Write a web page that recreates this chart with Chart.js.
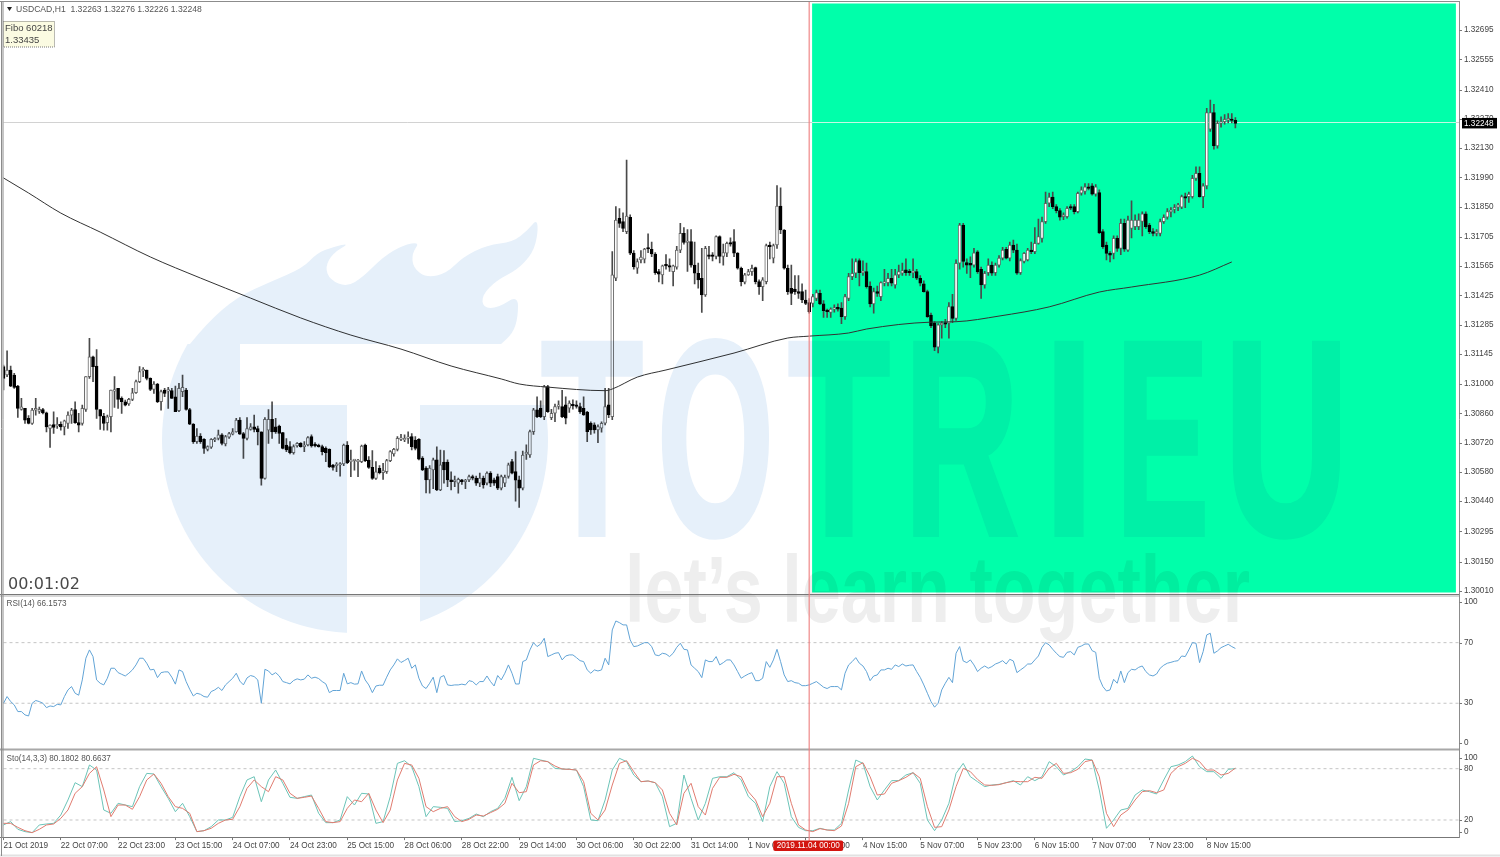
<!DOCTYPE html>
<html>
<head>
  <meta charset="utf-8" />
  <title>USDCAD,H1</title>
  <style>
    html, body { margin: 0; padding: 0; background: #fff; overflow: hidden; }
    #wrap { position: relative; width: 1500px; height: 857px; }
  </style>
</head>
<body>
  <div id="wrap"><canvas id="stage" width="1500" height="857"></canvas></div>

  <script src="https://cdn.jsdelivr.net/npm/chart.js@4/dist/chart.umd.min.js"></script>
  <script>
    // x axis labels, one every 16 bars
    const tickLabels = ['21 Oct 2019','22 Oct 07:00','22 Oct 23:00','23 Oct 15:00','24 Oct 07:00','24 Oct 23:00','25 Oct 15:00','28 Oct 06:00','28 Oct 22:00','29 Oct 14:00','30 Oct 06:00','30 Oct 22:00','31 Oct 14:00','1 Nov 06:00','1 Nov 22:00','4 Nov 15:00','5 Nov 07:00','5 Nov 23:00','6 Nov 15:00','7 Nov 07:00','7 Nov 23:00','8 Nov 15:00'];
    const barsPerTick = 16;
    const slotCount = 407; // bars plus the empty space right of the last candle

    const priceTicks = [1.32695,1.32555,1.32410,1.32270,1.32130,1.31990,1.31850,1.31705,1.31565,1.31425,1.31285,1.31145,1.31000,1.30860,1.30720,1.30580,1.30440,1.30295,1.30150,1.30010];
    const lastPrice = 1.32248;

    const opens = [
      1.31084,1.31044,1.31068,1.31044,1.30991,1.30879,1.30884,1.30836,1.30812,1.30876,
      1.30870,1.30879,1.30863,1.30788,1.30807,1.30800,1.30808,1.30796,1.30812,1.30852,
      1.30879,1.30816,1.30812,1.30879,1.31036,1.31131,1.31087,1.30879,1.30847,1.30816,
      1.30844,1.30967,1.30980,1.30932,1.30916,1.30905,1.30927,1.30959,1.31012,1.31064,
      1.31068,1.31028,1.30975,1.31000,1.30916,1.30972,1.30967,1.30969,1.30940,1.30873,
      1.30964,1.30972,1.30879,1.30809,1.30725,1.30752,1.30736,1.30688,1.30698,1.30733,
      1.30741,1.30757,1.30714,1.30746,1.30761,1.30772,1.30828,1.30764,1.30741,1.30784,
      1.30796,1.30788,1.30772,1.30549,1.30780,1.30832,1.30796,1.30800,1.30768,1.30709,
      1.30701,1.30672,1.30704,1.30717,1.30701,1.30709,1.30749,1.30713,1.30709,1.30701,
      1.30693,1.30688,1.30613,1.30610,1.30613,1.30618,1.30709,1.30629,1.30634,1.30629,
      1.30629,1.30709,1.30637,1.30602,1.30549,1.30597,1.30576,1.30581,1.30634,1.30666,
      1.30688,1.30736,1.30733,1.30741,1.30749,1.30733,1.30736,1.30646,1.30598,1.30542,
      1.30590,1.30638,1.30494,1.30627,1.30627,1.30542,1.30534,1.30526,1.30542,1.30534,
      1.30542,1.30555,1.30550,1.30526,1.30550,1.30526,1.30574,1.30542,1.30558,1.30502,
      1.30526,1.30558,1.30629,1.30582,1.30542,1.30502,1.30665,1.30661,1.30773,1.30877,
      1.30885,1.30845,1.30989,1.30840,1.30861,1.30893,1.30893,1.30901,1.30885,1.30901,
      1.30901,1.30893,1.30885,1.30866,1.30813,1.30805,1.30781,1.30789,1.30813,1.30901,
      1.30845,1.31507,1.31794,1.31778,1.31730,1.31799,1.31627,1.31555,1.31595,1.31598,
      1.31650,1.31646,1.31623,1.31539,1.31523,1.31571,1.31566,1.31539,1.31560,1.31642,
      1.31722,1.31678,1.31682,1.31570,1.31531,1.31507,1.31427,1.31619,1.31619,1.31611,
      1.31706,1.31611,1.31627,1.31674,1.31682,1.31627,1.31555,1.31488,1.31523,1.31539,
      1.31558,1.31491,1.31467,1.31491,1.31663,1.31603,1.31666,1.31853,1.31738,1.31555,
      1.31459,1.31455,1.31443,1.31443,1.31403,1.31390,1.31387,1.31411,1.31435,1.31384,
      1.31355,1.31343,1.31359,1.31368,1.31364,1.31323,1.31411,1.31515,1.31531,1.31592,
      1.31534,1.31539,1.31470,1.31384,1.31443,1.31419,1.31483,1.31486,1.31507,1.31475,
      1.31523,1.31531,1.31547,1.31539,1.31534,1.31539,1.31507,1.31480,1.31443,1.31331,
      1.31292,1.31177,1.31284,1.31295,1.31292,1.31371,1.31315,1.31579,1.31762,1.31582,
      1.31579,1.31570,1.31634,1.31550,1.31475,1.31534,1.31570,1.31534,1.31570,1.31603,
      1.31646,1.31603,1.31666,1.31642,1.31534,1.31587,1.31595,1.31642,1.31634,1.31674,
      1.31698,1.31778,1.31866,1.31895,1.31850,1.31831,1.31802,1.31802,1.31850,1.31850,
      1.31826,1.31914,1.31922,1.31945,1.31949,1.31910,1.31917,1.31730,1.31666,1.31626,
      1.31626,1.31698,1.31650,1.31770,1.31642,1.31746,1.31754,1.31754,1.31779,1.31815,
      1.31762,1.31730,1.31722,1.31722,1.31778,1.31799,1.31826,1.31837,1.31847,1.31847,
      1.31898,1.31898,1.31898,1.31985,1.32009,1.31898,1.31949,1.32220,1.32300,1.32140,
      1.32249,1.32257,1.32264,1.32268,1.32263];
    const highs = [
      1.31092,1.31160,1.31087,1.31052,1.30995,1.30932,1.30884,1.30850,1.30884,1.30932,
      1.30890,1.30884,1.30866,1.30806,1.30868,1.30840,1.30820,1.30828,1.30868,1.30884,
      1.30916,1.30860,1.30900,1.31036,1.31219,1.31135,1.31166,1.30879,1.30860,1.30852,
      1.30972,1.31036,1.30980,1.30940,1.30924,1.30932,1.30980,1.31020,1.31084,1.31080,
      1.31068,1.31031,1.31012,1.31004,1.30972,1.30980,1.30985,1.30980,1.30991,1.31004,
      1.31044,1.30980,1.30884,1.30812,1.30788,1.30764,1.30740,1.30705,1.30740,1.30745,
      1.30780,1.30764,1.30755,1.30770,1.30788,1.30836,1.30840,1.30770,1.30840,1.30812,
      1.30852,1.30800,1.30772,1.30840,1.30879,1.30916,1.30836,1.30804,1.30770,1.30740,
      1.30725,1.30710,1.30720,1.30720,1.30725,1.30749,1.30757,1.30720,1.30713,1.30709,
      1.30700,1.30690,1.30616,1.30625,1.30625,1.30713,1.30725,1.30685,1.30640,1.30640,
      1.30709,1.30713,1.30653,1.30682,1.30629,1.30610,1.30621,1.30640,1.30682,1.30693,
      1.30749,1.30760,1.30757,1.30772,1.30764,1.30749,1.30740,1.30653,1.30606,1.30610,
      1.30646,1.30700,1.30685,1.30682,1.30638,1.30580,1.30560,1.30550,1.30545,1.30545,
      1.30565,1.30565,1.30560,1.30574,1.30560,1.30580,1.30582,1.30550,1.30570,1.30565,
      1.30565,1.30622,1.30640,1.30677,1.30560,1.30680,1.30710,1.30780,1.30885,1.30940,
      1.30920,1.30995,1.30995,1.30880,1.30905,1.30920,1.30970,1.30940,1.30920,1.30925,
      1.30920,1.30910,1.30940,1.30870,1.30820,1.30815,1.30805,1.30820,1.30980,1.30980,
      1.31635,1.31850,1.31840,1.31820,1.32073,1.31810,1.31640,1.31600,1.31640,1.31650,
      1.31720,1.31680,1.31630,1.31550,1.31570,1.31620,1.31600,1.31570,1.31660,1.31770,
      1.31750,1.31740,1.31740,1.31680,1.31580,1.31650,1.31660,1.31660,1.31630,1.31710,
      1.31710,1.31670,1.31680,1.31700,1.31740,1.31630,1.31560,1.31530,1.31550,1.31570,
      1.31560,1.31500,1.31510,1.31670,1.31680,1.31670,1.31950,1.31940,1.31740,1.31570,
      1.31570,1.31520,1.31520,1.31480,1.31450,1.31410,1.31430,1.31450,1.31450,1.31400,
      1.31360,1.31365,1.31380,1.31385,1.31390,1.31430,1.31530,1.31600,1.31600,1.31600,
      1.31590,1.31580,1.31490,1.31460,1.31470,1.31490,1.31550,1.31530,1.31550,1.31550,
      1.31570,1.31580,1.31600,1.31550,1.31600,1.31550,1.31520,1.31495,1.31450,1.31340,
      1.31300,1.31290,1.31300,1.31310,1.31390,1.31430,1.31595,1.31770,1.31770,1.31600,
      1.31610,1.31650,1.31640,1.31560,1.31540,1.31600,1.31585,1.31580,1.31615,1.31655,
      1.31655,1.31680,1.31690,1.31670,1.31600,1.31630,1.31650,1.31680,1.31750,1.31790,
      1.31800,1.31920,1.31915,1.31920,1.31860,1.31840,1.31820,1.31850,1.31860,1.31860,
      1.31920,1.31945,1.31960,1.31960,1.31960,1.31955,1.31930,1.31740,1.31680,1.31635,
      1.31710,1.31710,1.31790,1.31790,1.31805,1.31877,1.31810,1.31815,1.31825,1.31825,
      1.31770,1.31745,1.31740,1.31790,1.31810,1.31840,1.31845,1.31860,1.31865,1.31905,
      1.31915,1.31920,1.32000,1.32040,1.32040,1.31960,1.32320,1.32360,1.32340,1.32260,
      1.32280,1.32290,1.32295,1.32295,1.32276];
    const lows = [
      1.30972,1.31036,1.30988,1.30980,1.30841,1.30876,1.30812,1.30810,1.30808,1.30852,
      1.30860,1.30858,1.30772,1.30697,1.30764,1.30788,1.30780,1.30757,1.30788,1.30812,
      1.30812,1.30772,1.30804,1.30870,1.31028,1.31012,1.30836,1.30784,1.30780,1.30780,
      1.30772,1.30889,1.30884,1.30860,1.30896,1.30898,1.30921,1.30956,1.31007,1.31036,
      1.31020,1.30969,1.30956,1.30911,1.30876,1.30940,1.30884,1.30932,1.30868,1.30868,
      1.30940,1.30876,1.30806,1.30717,1.30717,1.30717,1.30669,1.30680,1.30693,1.30725,
      1.30733,1.30709,1.30704,1.30740,1.30757,1.30770,1.30760,1.30645,1.30733,1.30780,
      1.30772,1.30709,1.30517,1.30545,1.30717,1.30741,1.30764,1.30717,1.30690,1.30677,
      1.30666,1.30665,1.30698,1.30698,1.30677,1.30704,1.30698,1.30700,1.30698,1.30661,
      1.30629,1.30600,1.30589,1.30581,1.30560,1.30610,1.30620,1.30557,1.30589,1.30557,
      1.30624,1.30629,1.30597,1.30544,1.30544,1.30570,1.30544,1.30573,1.30629,1.30655,
      1.30680,1.30730,1.30725,1.30717,1.30685,1.30685,1.30638,1.30586,1.30480,1.30478,
      1.30500,1.30490,1.30490,1.30526,1.30510,1.30494,1.30510,1.30478,1.30520,1.30500,
      1.30534,1.30542,1.30515,1.30510,1.30502,1.30518,1.30510,1.30515,1.30495,1.30494,
      1.30510,1.30550,1.30570,1.30440,1.30410,1.30494,1.30640,1.30650,1.30760,1.30840,
      1.30840,1.30830,1.30865,1.30830,1.30820,1.30880,1.30840,1.30810,1.30865,1.30880,
      1.30885,1.30860,1.30850,1.30725,1.30760,1.30765,1.30720,1.30770,1.30805,1.30840,
      1.30830,1.31495,1.31750,1.31730,1.31720,1.31620,1.31550,1.31530,1.31580,1.31580,
      1.31630,1.31610,1.31525,1.31490,1.31480,1.31550,1.31540,1.31470,1.31550,1.31630,
      1.31670,1.31540,1.31560,1.31480,1.31460,1.31343,1.31420,1.31600,1.31590,1.31600,
      1.31580,1.31570,1.31610,1.31660,1.31610,1.31550,1.31470,1.31480,1.31520,1.31520,
      1.31480,1.31430,1.31400,1.31480,1.31600,1.31580,1.31650,1.31720,1.31550,1.31430,
      1.31380,1.31430,1.31410,1.31390,1.31380,1.31340,1.31370,1.31400,1.31380,1.31320,
      1.31320,1.31320,1.31345,1.31350,1.31290,1.31310,1.31400,1.31500,1.31510,1.31470,
      1.31520,1.31460,1.31370,1.31340,1.31420,1.31400,1.31470,1.31470,1.31470,1.31460,
      1.31510,1.31520,1.31520,1.31520,1.31510,1.31500,1.31470,1.31440,1.31320,1.31270,
      1.31160,1.31150,1.31220,1.31270,1.31220,1.31295,1.31305,1.31550,1.31560,1.31530,
      1.31510,1.31560,1.31530,1.31410,1.31460,1.31520,1.31520,1.31520,1.31560,1.31595,
      1.31600,1.31590,1.31630,1.31525,1.31525,1.31580,1.31590,1.31625,1.31625,1.31670,
      1.31680,1.31770,1.31850,1.31840,1.31820,1.31785,1.31787,1.31795,1.31835,1.31815,
      1.31820,1.31905,1.31910,1.31930,1.31905,1.31900,1.31720,1.31650,1.31595,1.31585,
      1.31600,1.31635,1.31620,1.31635,1.31635,1.31700,1.31740,1.31740,1.31710,1.31745,
      1.31720,1.31710,1.31710,1.31710,1.31770,1.31790,1.31800,1.31820,1.31830,1.31840,
      1.31845,1.31870,1.31890,1.31975,1.31895,1.31845,1.31935,1.32210,1.32125,1.32130,
      1.32230,1.32245,1.32250,1.32250,1.32226];
    const closes = [
      1.31028,1.31068,1.30991,1.30985,1.30884,1.30892,1.30828,1.30812,1.30876,1.30884,
      1.30880,1.30863,1.30796,1.30804,1.30793,1.30808,1.30796,1.30825,1.30852,1.30876,
      1.30816,1.30804,1.30884,1.31036,1.31131,1.31084,1.30879,1.30847,1.30812,1.30844,
      1.30972,1.30974,1.30927,1.30916,1.30900,1.30927,1.30959,1.31012,1.31060,1.31068,
      1.31028,1.30975,1.31000,1.30916,1.30964,1.30956,1.30972,1.30932,1.30868,1.30980,
      1.30985,1.30879,1.30809,1.30725,1.30752,1.30725,1.30693,1.30701,1.30736,1.30736,
      1.30757,1.30717,1.30749,1.30764,1.30772,1.30828,1.30761,1.30741,1.30788,1.30796,
      1.30784,1.30772,1.30549,1.30832,1.30832,1.30772,1.30772,1.30764,1.30693,1.30685,
      1.30672,1.30701,1.30717,1.30701,1.30709,1.30745,1.30704,1.30704,1.30701,1.30677,
      1.30672,1.30605,1.30602,1.30618,1.30618,1.30709,1.30624,1.30637,1.30637,1.30634,
      1.30704,1.30634,1.30602,1.30549,1.30581,1.30576,1.30586,1.30634,1.30677,1.30688,
      1.30741,1.30741,1.30741,1.30745,1.30701,1.30693,1.30641,1.30590,1.30542,1.30598,
      1.30638,1.30494,1.30614,1.30590,1.30542,1.30534,1.30542,1.30545,1.30534,1.30540,
      1.30558,1.30550,1.30526,1.30550,1.30518,1.30574,1.30526,1.30526,1.30502,1.30558,
      1.30555,1.30614,1.30574,1.30540,1.30502,1.30661,1.30675,1.30773,1.30877,1.30845,
      1.30845,1.30989,1.30869,1.30861,1.30893,1.30901,1.30845,1.30837,1.30909,1.30896,
      1.30893,1.30869,1.30853,1.30773,1.30781,1.30781,1.30797,1.30813,1.30893,1.30853,
      1.31523,1.31786,1.31770,1.31746,1.31805,1.31627,1.31563,1.31587,1.31608,1.31647,
      1.31647,1.31623,1.31534,1.31527,1.31566,1.31566,1.31560,1.31566,1.31642,1.31722,
      1.31678,1.31682,1.31570,1.31531,1.31499,1.31427,1.31650,1.31611,1.31611,1.31706,
      1.31611,1.31630,1.31674,1.31670,1.31627,1.31555,1.31491,1.31523,1.31539,1.31555,
      1.31491,1.31467,1.31499,1.31663,1.31658,1.31663,1.31853,1.31738,1.31555,1.31443,
      1.31435,1.31443,1.31435,1.31403,1.31387,1.31347,1.31419,1.31438,1.31384,1.31352,
      1.31347,1.31359,1.31364,1.31359,1.31323,1.31419,1.31515,1.31531,1.31587,1.31534,
      1.31539,1.31467,1.31384,1.31443,1.31435,1.31486,1.31491,1.31507,1.31483,1.31523,
      1.31539,1.31544,1.31534,1.31534,1.31539,1.31507,1.31483,1.31443,1.31323,1.31279,
      1.31177,1.31284,1.31292,1.31287,1.31371,1.31315,1.31579,1.31762,1.31587,1.31570,
      1.31570,1.31629,1.31539,1.31475,1.31531,1.31570,1.31531,1.31570,1.31603,1.31642,
      1.31603,1.31666,1.31642,1.31531,1.31592,1.31626,1.31642,1.31634,1.31674,1.31706,
      1.31778,1.31866,1.31895,1.31850,1.31831,1.31799,1.31810,1.31842,1.31842,1.31826,
      1.31914,1.31930,1.31945,1.31937,1.31910,1.31945,1.31725,1.31658,1.31626,1.31618,
      1.31698,1.31650,1.31770,1.31646,1.31786,1.31786,1.31786,1.31786,1.31815,1.31754,
      1.31730,1.31722,1.31730,1.31778,1.31799,1.31826,1.31831,1.31847,1.31858,1.31898,
      1.31890,1.31910,1.31985,1.32009,1.31898,1.31949,1.32300,1.32300,1.32140,1.32249,
      1.32257,1.32268,1.32272,1.32262,1.32248];

    const maBars = [0,7,16,27,41,55,69,83,97,111,125,139,144,152,168,170,177,185,204,219,225,236,241,259,266,278,292,306,315,334,343];
    const maValues = [1.31987,1.31915,1.31819,1.31728,1.31609,1.31508,1.31412,1.31317,1.31235,1.31168,1.31087,1.31025,1.31001,1.30986,1.30969,1.30977,1.31034,1.31068,1.31149,1.31221,1.31230,1.31245,1.31264,1.31297,1.31299,1.31326,1.31370,1.31441,1.31465,1.31522,1.31585];

    const rsi = [
      30,34.4,31.1,28.9,24.5,24.5,22.3,21.6,30,31.8,
      31.1,30,27.1,28.2,27.8,29.3,28.9,34.4,38.8,41,
      36.6,35.3,45.4,59.7,65.2,60.8,45.4,43.2,42.1,46.5,
      53.1,53.1,50.2,49.1,48,49.8,52,55.3,59.7,59.7,
      56.4,52,52.4,46.9,50.2,50.7,50.7,47.2,42.6,52,
      50.9,44.3,39.2,34.8,36.6,35.9,34.4,34,37.7,38.8,
      40.5,38.4,42.1,44.3,46.5,49.8,44.6,42.1,46.7,48.3,
      47.6,45.4,30,52.4,51.3,48.7,50.2,48,44.3,43.6,
      42.8,45,46.1,45.4,45.9,48.7,46.5,47.2,46.3,44.3,
      42.8,37,38.4,38.4,38.4,49.8,42.8,43.6,42.6,42.8,
      51.3,45.4,42.1,37,41.4,41.9,41.9,47.2,52,55.3,
      59.3,56.9,58.2,59.7,53.1,55.3,46.5,41.4,39.7,43.2,
      47.2,37,47.2,48.3,42.1,41.7,42.1,42.1,42.6,42.1,
      44.9,44.3,42.1,44.3,44.3,48,44.3,41.4,48.3,
      45.4,49.8,55.3,49.8,42.7,42.7,57.5,58.6,65.2,70,
      67.4,69.1,72.9,60.8,61.9,63,63.4,58.6,61.2,61.9,
      61.9,60.1,58.1,57.5,52,49.8,52,51.3,52,59.7,
      55.3,78.4,84.3,83.2,81.7,81.7,71.8,67.4,67.8,68.9,
      70,70,67.4,61.9,61.4,63,62.5,60.8,63,66.9,
      69.6,65.6,65.2,55.3,53.1,50.9,46.9,58.6,57.5,57.5,
      60.8,55.3,56.8,58.6,58.6,55.3,50.9,46.5,48,49.3,
      50.2,44.9,44.9,46.5,57.5,53.7,58.6,65.6,57.5,48.7,
      44.3,44.9,43.6,43.2,41.6,41.6,42.1,43.2,44.3,42.5,
      40.6,39.7,41,41,41,38.8,49.8,55.3,57.5,60.1,
      56.4,54.6,50.9,44.9,48,48.7,52,52,53.1,52.4,
      55.3,54.2,55.9,54.6,55.1,55.3,50.9,47.1,42.1,36.6,
      31.1,27.4,30,38.8,43.2,47.1,43.6,63,67.4,57.9,
      56.8,58.6,55.3,50.9,53.1,54.6,53.1,54.2,55.9,56.8,
      58.1,55.9,59,57.9,50.2,52,53.7,55.9,55.9,58.6,
      61.2,66.9,70,68.5,65.6,63,60.8,60.3,63.6,64.1,
      61.9,66.9,67.8,69.1,69.1,64.7,63.6,46.5,41,38.1,
      38.8,45.8,43.2,51.3,43.6,50.2,52.4,52,53.7,54.6,
      50.9,48.7,48,49.3,53.1,55.1,56.4,57,57.7,58.1,
      61.2,60.8,65.2,70,69.6,56.8,64.1,75.1,76.2,63,
      64.5,66.7,67.8,68.9,67.4,66.16];

    // stochastic, read every second bar
    const stoStep = 2;
    const stoMain = [
      14.2,18.1,9.1,6.4,5.2,14.2,15.3,16.1,25.8,43.4,
      63.6,59,84.3,78.4,31.7,27.8,39.5,37.5,35.6,59,
      74.5,73.8,59,45.3,29.7,39.5,23.9,6.4,7.5,12.2,
      20,20,23.1,47.3,66.8,70.6,41.4,66.8,78.4,62.9,
      46.5,45.3,47.3,49.2,27.8,16.9,16.9,20,47.3,37.5,
      51.2,50.4,16.1,18.1,47.3,86.2,89.3,82.3,59,23.9,
      35.6,34.8,33.6,18.1,19.2,21.9,27,23.9,29.7,33.6,
      45.3,69.9,42.6,59,92.1,90.1,88.2,80.4,79.6,79.2,
      78.4,59,20,19.2,43.4,78.4,92.1,88.2,72.6,64.8,
      65.6,63.6,47.3,12.2,16.1,72.6,45.3,20,39.5,68.7,
      70.6,70.6,75.3,66.8,47.3,39.5,18.1,59,76.5,62.9,
      23.9,11.4,7.5,7.5,10.3,8.3,8.3,16.1,55.1,90.1,
      86.2,59,43.4,55.1,66,66,72.6,75.3,62.9,20,
      7.5,20,39.5,74.5,86.2,70.6,64.8,59,60.9,61.7,
      63.6,66,60.9,70.6,66,70.6,88.2,82.3,72.6,76.5,
      82.3,91.3,90.1,55.1,10.3,20,31.7,33.6,49.2,55.1,
      53.1,50.4,66.8,82.3,84.3,88.2,94.8,82.3,76.5,76.5,
      68.7,79.2,80.18];
    const stoSignal = [
      16.1,16.1,11.4,7.5,5.2,9.1,14.2,15.3,21.9,31.7,
      51.2,59,74.5,82.3,55.1,23.9,37.5,37.5,32.5,47.3,
      66.8,73.8,62.9,47.3,35.6,33.6,27.8,6.4,7.5,10.3,
      16.1,20,20.8,35.6,57,66.8,59,53.1,70.6,66.8,
      51.2,45.3,46.5,48,33.6,18.1,16.9,18.1,33.6,43.4,
      41.4,51.2,31.7,16.9,31.7,66.8,86.2,84.3,68.7,35.6,
      29.7,33.6,35.6,23.9,18.1,20.8,25.8,24.7,28.6,32.5,
      39.5,62.9,51.9,53.1,84.3,89.3,88.2,83.1,79.6,79.2,
      78.4,64.8,27.8,20,31.7,60.9,86.2,89.3,76.5,64.8,
      65.6,63.6,55.1,27.8,14.2,51.2,62.9,35.6,25.8,57,
      69.9,69.9,73.4,70.6,53.1,43.4,23.9,39.5,70.6,70.6,
      39.5,14.2,8.3,6.4,9.9,8.3,7.5,13,39.5,82.3,
      87,70.6,49.2,50.4,62.9,66,69.9,75.3,68.7,35.6,
      11.4,12.2,31.7,59,80.4,76.5,67.5,60.9,60.5,61.3,
      63.6,65.2,64.8,64.8,69.9,68.7,80.4,86.2,74.5,75.3,
      79.2,88.2,90.1,70.6,27.8,12.2,25.8,31.7,43.4,53.1,
      54.3,51.9,55.1,74.5,82.3,86.2,92.1,88.2,78.4,78.4,
      72.6,74.5,80.66];

    const rsiLevels = [70, 30];
    const stoLevels = [80, 20];
    // the 100 and 0 captions sit a little inside their panel, so their ticks are placed apart from the real value
    const rsiTickValues = [96.8, 70, 30, 3.7];
    const rsiTickLabels = ['100', '70', '30', '0'];
    const stoTickValues = [93, 80, 20, 6.3];
    const stoTickLabels = ['100', '80', '20', '0'];

    const headerText = 'USDCAD,H1  1.32263 1.32276 1.32226 1.32248';
    const rsiText = 'RSI(14) 66.1573';
    const stoText = 'Sto(14,3,3) 80.1802 80.6637';
    const timerText = '00:01:02';
    const cursorBar = 225;
    const cursorText = '2019.11.04 00:00';
    const boxFromBar = 225.8;

    const slots = Array.from({ length: slotCount }, (_, i) => i);
    const maData = slots.map(i => { const k = maBars.indexOf(i); return k < 0 ? null : maValues[k]; });
    const stoData = list => slots.map(i => (i % stoStep || list[i / stoStep] === undefined) ? null : list[i / stoStep]);

    const smallFont = '8.2px "Liberation Sans"';

    function bandLine(ctx, x0, x1, y, color, width) {
      ctx.strokeStyle = color;
      ctx.lineWidth = width;
      ctx.beginPath();
      ctx.moveTo(x0, y);
      ctx.lineTo(x1, y);
      ctx.stroke();
    }

    // flame logo and site name, kept on a side canvas so cut-outs work, then multiplied over the chart
    function drawWatermark(ctx) {
      const off = document.createElement('canvas');
      off.width = 1500;
      off.height = 857;
      const c = off.getContext('2d');
      const pale = '#e6f0fa';
      c.fillStyle = '#fff';
      c.fillRect(0, 0, 1500, 857);
      c.fillStyle = pale;

      c.save();
      c.beginPath();
      c.rect(0, 344, 1500, 400);
      c.clip();
      c.beginPath();
      c.arc(355, 440, 193, 0, Math.PI * 2);
      c.fill();
      c.restore();

      const flame = [[190,344],[207,323],[237,297],[270,282],[303,268],[317,253],[333,247],[350,243],[333,253],[325,267],[330,280],[347,287],[363,277],[383,257],[403,245],[420,242],[412,253],[413,268],[427,278],[447,273],[463,257],[487,245],[513,242],[528,230],[537,219],[538,233],[533,253],[517,270],[497,280],[482,295],[483,308],[498,308],[518,295],[518,317],[513,333],[500,345]];
      c.beginPath();
      c.moveTo(flame[0][0], flame[0][1]);
      for (let i = 1; i < flame.length - 1; i++) {
        const p = flame[i], q = flame[i + 1];
        c.quadraticCurveTo(p[0], p[1], (p[0] + q[0]) / 2, (p[1] + q[1]) / 2);
      }
      c.lineTo(500, 345);
      c.lineTo(190, 345);
      c.closePath();
      c.fill();

      c.fillStyle = '#fff';
      c.fillRect(240, 344, 310, 61);
      c.fillRect(347, 405, 73, 240);

      // letters placed one by one, the original lettering is much narrower than any installed bold
      c.fillStyle = pale;
      c.strokeStyle = pale;
      c.lineWidth = 5;
      c.font = 'bold 278px "Liberation Sans"';
      [['T',541,102],['O',657,117],['T',788,102],['R',904,115],['I',1044,50],['E',1116,93],['U',1224,125]].forEach(([ch, x, w]) => {
        c.fillText(ch, x, 534.5, w);
        c.strokeText(ch, x, 534.5, w);
      });

      c.fillStyle = '#eeeeee';
      c.font = 'bold 95px "Liberation Sans"';
      c.fillText('let\u2019s learn together', 625, 622, 625);

      ctx.save();
      ctx.globalCompositeOperation = 'multiply';
      ctx.drawImage(off, 0, 0);
      ctx.restore();
    }

    const panels = {
      id: 'panels',
      beforeDraw(chart) {
        const { ctx, chartArea, scales } = chart;
        ctx.save();
        ctx.fillStyle = '#fff';
        ctx.fillRect(0, 0, 1500, 857);

        // green box over the last days
        const boxLeft = scales.x.getPixelForValue(boxFromBar);
        ctx.fillStyle = '#00ffaa';
        ctx.fillRect(boxLeft, scales.price.top, chartArea.right - 1.5 - boxLeft, scales.price.bottom - 2.5 - scales.price.top);

        // bid line
        const bidY = Math.round(scales.price.getPixelForValue(lastPrice)) - 0.5;
        bandLine(ctx, chartArea.left, boxLeft, bidY, '#d2d2d2', 1);
        bandLine(ctx, boxLeft, chartArea.right - 1.5, bidY, '#c4f8e4', 1);
        bandLine(ctx, chartArea.right - 1.5, 1459, bidY, '#d2d2d2', 1);

        // dashed levels
        ctx.setLineDash([3, 3]);
        rsiLevels.forEach(v => bandLine(ctx, chartArea.left, 1459, scales.rsi.getPixelForValue(v), '#c4c4c4', 1));
        stoLevels.forEach(v => bandLine(ctx, chartArea.left, 1459, scales.sto.getPixelForValue(v), '#c4c4c4', 1));
        ctx.restore();
      },
      afterDatasetsDraw(chart) {
        const { ctx, scales } = chart;
        drawWatermark(ctx);

        ctx.save();
        // frame and panel separators
        bandLine(ctx, 0, 1460, 1.5, '#8c8c8c', 1);
        bandLine(ctx, 0, 1460, 594.5, '#777', 1);
        bandLine(ctx, 0, 1460, 596, '#b0b0b0', 1);
        bandLine(ctx, 0, 1460, 749.5, '#a8a8a8', 2);
        bandLine(ctx, 0, 1460, 837.5, '#777', 1);
        bandLine(ctx, 0, 1500, 855.5, '#e2e2e2', 2);
        ctx.strokeStyle = '#8c8c8c';
        ctx.lineWidth = 1;
        ctx.beginPath();
        ctx.moveTo(1.5, 1); ctx.lineTo(1.5, 856);
        ctx.moveTo(3, 1); ctx.lineTo(3, 838);
        ctx.moveTo(1459.5, 1); ctx.lineTo(1459.5, 838);
        ctx.stroke();

        // price axis ticks
        ['price', 'rsi', 'sto'].forEach(id => {
          scales[id].ticks.forEach(t => {
            const y = Math.round(scales[id].getPixelForValue(t.value)) + 0.5;
            bandLine(ctx, 1459.5, 1462, y, '#777', 1);
          });
        });

        // vertical cursor through all panels
        const cursorX = scales.x.getPixelForValue(cursorBar);
        ctx.globalAlpha = 0.75;
        ctx.strokeStyle = '#ee8080';
        ctx.lineWidth = 1.5;
        ctx.beginPath();
        ctx.moveTo(cursorX, 2);
        ctx.lineTo(cursorX, 846);
        ctx.stroke();
        ctx.globalAlpha = 1;

        // red date flag
        ctx.fillStyle = '#d3150f';
        ctx.beginPath();
        ctx.roundRect(cursorX - 36, 840.5, 70, 10.5, 2);
        ctx.fill();
        ctx.fillStyle = '#fff';
        ctx.font = smallFont;
        ctx.textBaseline = 'middle';
        ctx.textAlign = 'center';
        ctx.fillText(cursorText, cursorX - 1, 846);

        // black price tag
        const tagY = scales.price.getPixelForValue(lastPrice);
        ctx.fillStyle = '#000';
        ctx.fillRect(1462, tagY - 5.5, 35, 10.5);
        ctx.fillStyle = '#fff';
        ctx.textAlign = 'left';
        ctx.fillText(lastPrice.toFixed(5), 1464, tagY);

        // chart caption
        ctx.fillStyle = '#222';
        ctx.beginPath();
        ctx.moveTo(7, 7); ctx.lineTo(12, 7); ctx.lineTo(9.5, 11);
        ctx.closePath();
        ctx.fill();
        ctx.fillStyle = '#555';
        ctx.font = '8.6px "Liberation Sans"';
        ctx.fillText(headerText, 16, 9.5);
        ctx.font = smallFont;
        ctx.fillText(rsiText, 6.5, 604);
        ctx.fillText(stoText, 6.5, 759);

        // Fibo note
        ctx.fillStyle = '#fbfbe2';
        ctx.fillRect(3.5, 21, 51, 26);
        ctx.setLineDash([1, 1]);
        ctx.strokeStyle = '#777';
        ctx.lineWidth = 1;
        ctx.strokeRect(3.5, 21.5, 51, 25.5);
        ctx.setLineDash([]);
        ctx.fillStyle = '#444';
        ctx.font = '9.5px "Liberation Sans"';
        ctx.fillText('Fibo 60218', 5, 28);
        ctx.fillText('1.33435', 5, 40);

        // bar countdown
        ctx.fillStyle = '#4a4a4a';
        ctx.font = '16px "DejaVu Sans"';
        ctx.textBaseline = 'alphabetic';
        ctx.fillText(timerText, 8, 589);
        ctx.restore();
      }
    };

    function fitSide(scale) {
      scale.width = 1500 - 1457.4;
      scale.paddingTop = 0;
      scale.paddingBottom = 0;
    }

    function sideAxis(stackWeight, weight, min, max, tickValues, labelOf) {
      return {
        position: 'right',
        stack: 'panels',
        stackWeight,
        weight,
        min,
        max,
        grid: { display: false, drawTicks: false },
        border: { display: false },
        afterFit: fitSide,
        afterBuildTicks(scale) { scale.ticks = tickValues.map(value => ({ value })); },
        ticks: {
          autoSkip: false,
          padding: 6.5,
          color: '#444',
          font: { family: 'Liberation Sans', size: 8.2 },
          callback: labelOf
        }
      };
    }

    new Chart(document.getElementById('stage'), {
      type: 'line',
      data: {
        labels: slots,
        datasets: [
          {
            type: 'bar', yAxisID: 'price', order: 2, grouped: false, barThickness: 3, minBarLength: 1.5,
            data: opens.map((o, i) => [o, closes[i]]),
            backgroundColor: ctx => closes[ctx.dataIndex] >= opens[ctx.dataIndex] ? '#ffffff' : '#000000',
            borderColor: ctx => closes[ctx.dataIndex] >= opens[ctx.dataIndex] ? '#666666' : '#000000',
            borderWidth: 1, borderSkipped: false
          },
          {
            type: 'bar', yAxisID: 'price', order: 3, grouped: false, barThickness: 1,
            data: lows.map((l, i) => [l, highs[i]]),
            backgroundColor: '#4a4a4a'
          },
          { type: 'line', yAxisID: 'price', order: 1, data: maData, spanGaps: true, cubicInterpolationMode: 'monotone', borderColor: '#333', borderWidth: 1, pointRadius: 0 },
          { type: 'line', yAxisID: 'rsi', order: 1, data: rsi, borderColor: '#62a4d6', borderWidth: 1, pointRadius: 0 },
          { type: 'line', yAxisID: 'sto', order: 2, data: stoData(stoMain), spanGaps: true, borderColor: '#6cc4b8', borderWidth: 1, pointRadius: 0 },
          { type: 'line', yAxisID: 'sto', order: 1, data: stoData(stoSignal), spanGaps: true, borderColor: '#e07c70', borderWidth: 1, pointRadius: 0 }
        ]
      },
      plugins: [panels],
      options: {
        responsive: false,
        animation: false,
        events: [],
        layout: { padding: { left: 3.5, top: 3.5, right: 0, bottom: 0 } },
        plugins: { legend: { display: false }, tooltip: { enabled: false }, title: { display: false } },
        scales: {
          x: {
            type: 'category',
            offset: false,
            grid: { offset: false, drawOnChartArea: false, drawTicks: true, tickLength: 3, color: '#777' },
            border: { display: false },
            afterFit(scale) {
              scale.height = 857 - 837.1;
              scale.paddingLeft = 0;
              scale.paddingRight = 0;
            },
            afterBuildTicks(scale) {
              scale.ticks = tickLabels.map((_, k) => ({ value: k * barsPerTick }));
            },
            ticks: {
              autoSkip: false,
              maxRotation: 0,
              minRotation: 0,
              align: 'start',
              padding: 1,
              color: '#444',
              font: { family: 'Liberation Sans', size: 8.2 },
              callback: v => tickLabels[v / barsPerTick]
            }
          },
          price: sideAxis(591.5, 1, 1.29991, 1.32822, priceTicks, v => v.toFixed(5)),
          rsi: sideAxis(155.2, 2, -1, 101.45, rsiTickValues, (v, i) => rsiTickLabels[i]),
          sto: sideAxis(86.9, 3, 0, 101.6, stoTickValues, (v, i) => stoTickLabels[i])
        }
      }
    });
  </script>
</body>
</html>
